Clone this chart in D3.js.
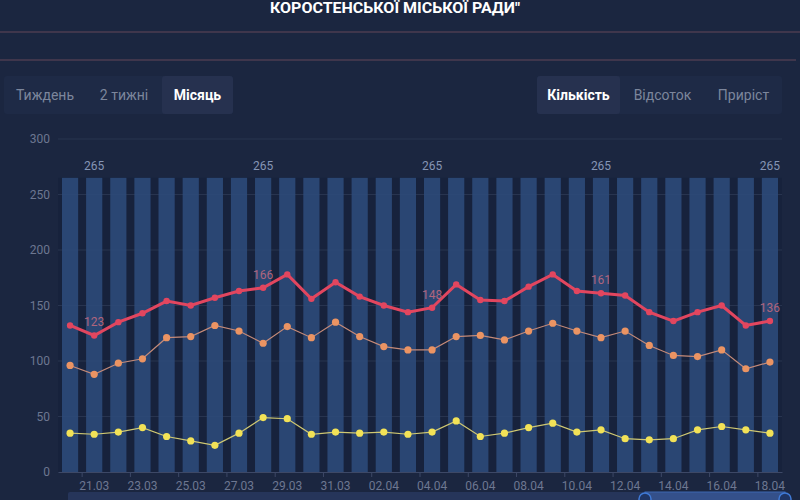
<!DOCTYPE html>
<html>
<head>
<meta charset="utf-8">
<script src="https://cdn.jsdelivr.net/npm/d3@7"></script>
<style>
  body { margin: 0; background: #1b2640; font-family: Roboto, sans-serif; overflow: hidden; }
</style>
</head>
<body>
<script>
// data
const dates = ["20.03","21.03","22.03","23.03","24.03","25.03","26.03","27.03","28.03","29.03",
  "30.03","31.03","01.04","02.04","03.04","04.04","05.04","06.04","07.04","08.04",
  "09.04","10.04","11.04","12.04","13.04","14.04","15.04","16.04","17.04","18.04"];
const capacity = [265,265,265,265,265,265,265,265,265,265,265,265,265,265,265,
  265,265,265,265,265,265,265,265,265,265,265,265,265,265,265];
const totalSick = [132,123,135,143,154,150,157,163,166,178,156,171,158,150,144,
  148,169,155,154,167,178,163,161,159,144,136,144,150,132,136];
const moderate = [96,88,98,102,121,122,132,127,116,131,121,135,122,113,110,
  110,122,123,119,127,134,127,121,127,114,105,104,110,93,99];
const severe = [35,34,36,40,32,28,24,35,49,48,34,36,35,36,34,
  36,46,32,35,40,44,36,38,30,29,30,38,41,38,35];
const yTicks = [0,50,100,150,200,250,300];
const leftButtons = ["Тиждень","2 тижні","Місяць"];
const rightButtons = ["Кількість","Відсоток","Приріст"];

const W = 800, H = 500;
const svg = d3.select("body").append("svg").attr("width", W).attr("height", H);

// header
svg.append("text")
  .attr("x", 395).attr("y", 13)
  .attr("text-anchor", "middle")
  .attr("fill", "#ffffff")
  .attr("font-weight", "bold")
  .attr("font-size", "15px")
  .attr("textLength", 250)
  .attr("lengthAdjust", "spacingAndGlyphs")
  .text("КОРОСТЕНСЬКОЇ МІСЬКОЇ РАДИ\"");

svg.append("line").attr("x1", 0).attr("x2", 800).attr("y1", 32).attr("y2", 32)
  .attr("stroke", "#654659").attr("stroke-width", 1);
svg.append("line").attr("x1", 0).attr("x2", 796).attr("y1", 60).attr("y2", 60)
  .attr("stroke", "#654659").attr("stroke-width", 1);

// button groups
const drawButtons = (labels, x0, widths, active) => {
  let total = d3.sum(widths) + (widths.length - 1) * 2;
  svg.append("rect").attr("x", x0).attr("y", 76).attr("width", total).attr("height", 38)
    .attr("rx", 3).attr("fill", "#1e2a46");
  let x = x0;
  labels.forEach((lab, i) => {
    if (i === active) {
      svg.append("rect").attr("x", x).attr("y", 76).attr("width", widths[i]).attr("height", 38)
        .attr("rx", 3).attr("fill", "#26314f");
    }
    svg.append("text")
      .attr("x", x + widths[i] / 2).attr("y", 100)
      .attr("text-anchor", "middle")
      .attr("font-size", "14px")
      .attr("font-weight", i === active ? "bold" : "normal")
      .attr("fill", i === active ? "#ffffff" : "#7c869c")
      .text(lab);
    x += widths[i] + 2;
  });
};
drawButtons(leftButtons, 4, [82, 72, 71], 2);
drawButtons(rightButtons, 537, [83, 81, 77], 0);

// scales
const x = d3.scaleBand().domain(dates).range([58, 782]).paddingInner(0.33).paddingOuter(0.165);
const y = d3.scaleLinear().domain([0, 300]).range([472, 139]);
const cx = d => x(d) + x.bandwidth() / 2;

// darker plot backdrop between bars
svg.append("rect").attr("x", 58).attr("y", y(265)).attr("width", 724).attr("height", y(0) - y(265))
  .attr("fill", "#17223c");

// grid
svg.append("g").selectAll("line")
  .data(yTicks.filter(t => t > 0))
  .join("line")
  .attr("x1", 58).attr("x2", 782)
  .attr("y1", d => y(d)).attr("y2", d => y(d))
  .attr("stroke", "#28344f").attr("stroke-width", 1);

// y axis labels
const yAxis = svg.append("g").attr("transform", "translate(58,0)")
  .call(d3.axisLeft(y).tickValues(yTicks).tickSize(0).tickPadding(8));
yAxis.select(".domain").remove();
yAxis.selectAll("text").attr("fill", "#6d7791").attr("font-size", "12px").attr("font-family", "Roboto, sans-serif");

// bars
svg.append("g").selectAll("rect")
  .data(dates)
  .join("rect")
  .attr("x", d => x(d))
  .attr("y", (d, i) => y(capacity[i]))
  .attr("width", x.bandwidth())
  .attr("height", (d, i) => y(0) - y(capacity[i]))
  .attr("fill", "#2d4a78")
  .attr("opacity", 0.92);

// bar labels
svg.append("g").selectAll("text")
  .data(dates.filter((d, i) => i % 7 === 1))
  .join("text")
  .attr("x", d => cx(d))
  .attr("y", d => y(capacity[dates.indexOf(d)]) - 8)
  .attr("text-anchor", "middle")
  .attr("font-size", "12px")
  .attr("fill", "#8595b5")
  .text(d => capacity[dates.indexOf(d)]);

// x axis
const xAxis = svg.append("g").attr("transform", "translate(0,472)")
  .call(d3.axisBottom(x).tickValues(dates.filter((d, i) => i % 2 === 1)).tickSize(0).tickPadding(9));
xAxis.select(".domain").attr("stroke", "#3d4866");
xAxis.selectAll("text").attr("fill", "#6d7791").attr("font-size", "12px").attr("font-family", "Roboto, sans-serif");
const gap = x.step() - x.bandwidth();
svg.append("g").selectAll("line")
  .data(dates.filter((d, i) => i % 2 === 1))
  .join("line")
  .attr("x1", d => x(d) - gap / 2).attr("x2", d => x(d) - gap / 2)
  .attr("y1", 472).attr("y2", 477)
  .attr("stroke", "#3d4866");

// lines
const drawSeries = (vals, lineColor, dotColor, width, r) => {
  const line = d3.line().x((v, i) => cx(dates[i])).y(v => y(v));
  svg.append("path").datum(vals)
    .attr("d", line)
    .attr("fill", "none")
    .attr("stroke", lineColor)
    .attr("stroke-width", width);
  svg.append("g").selectAll("circle")
    .data(vals)
    .join("circle")
    .attr("cx", (v, i) => cx(dates[i]))
    .attr("cy", v => y(v))
    .attr("r", r)
    .attr("fill", dotColor);
};
drawSeries(severe, "#cfc872", "#f2e257", 1.2, 3.6);
drawSeries(moderate, "#c58a78", "#eb9463", 1.2, 3.6);
drawSeries(totalSick, "#e2465f", "#e2465f", 3, 3.2);

// red labels
svg.append("g").selectAll("text")
  .data(dates.filter((d, i) => i % 7 === 1))
  .join("text")
  .attr("x", d => cx(d))
  .attr("y", d => y(totalSick[dates.indexOf(d)]) - 9)
  .attr("text-anchor", "middle")
  .attr("font-size", "12px")
  .attr("fill", "#b0657d")
  .text(d => totalSick[dates.indexOf(d)]);

// data zoom slider
svg.append("rect").attr("x", 68).attr("y", 492).attr("width", 717).attr("height", 14)
  .attr("fill", "#26355a").attr("rx", 2);
svg.append("rect").attr("x", 645).attr("y", 492).attr("width", 140).attr("height", 14)
  .attr("fill", "#34508a").attr("stroke", "#3d66b0");
[645, 785].forEach(px => {
  svg.append("circle").attr("cx", px).attr("cy", 499).attr("r", 6)
    .attr("fill", "#1f3564").attr("stroke", "#3f7ad6").attr("stroke-width", 1.5);
});
</script>
</body>
</html>
